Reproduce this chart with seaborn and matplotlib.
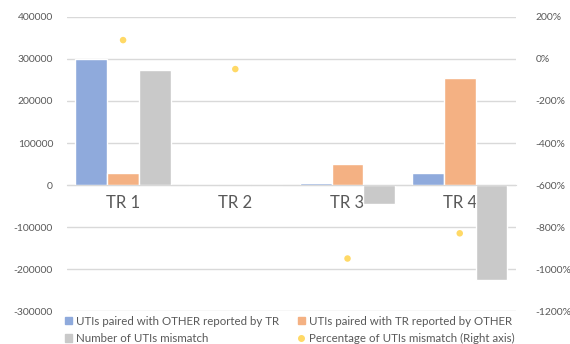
import pandas as pd
import numpy as np
import matplotlib
matplotlib.use('Agg')
import matplotlib.pyplot as plt
import seaborn as sns
from matplotlib.ticker import FuncFormatter
from matplotlib.patches import Patch
from matplotlib.lines import Line2D

# data
categories = ['TR 1', 'TR 2', 'TR 3', 'TR 4']
paired_other_by_tr = [300000, 0, 4000, 28000]
paired_tr_by_other = [28000, 0, 51000, 255000]
uti_mismatch = [274000, 0, -46000, -226000]
pct_mismatch = [0.90, -0.48, -9.50, -8.30]

series_names = ['UTIs paired with OTHER reported by TR',
                'UTIs paired with TR reported by OTHER',
                'Number of UTIs mismatch']
pct_name = 'Percentage of UTIs mismatch (Right axis)'
colors = ['#8FAADC', '#F4B183', '#C9C9C9']
dot_color = '#FFD966'

df = pd.DataFrame({
    'category': categories * 3,
    'series': [s for s in series_names for _ in categories],
    'value': paired_other_by_tr + paired_tr_by_other + uti_mismatch,
})
df_pct = pd.DataFrame({'category': categories, 'pct': pct_mismatch})

sns.set_style('white')
plt.rcParams['font.family'] = ['Lato', 'DejaVu Sans']
tick_col = '#595959'
grid_col = '#D9D9D9'

fig = plt.figure(figsize=(5.7, 3.44), dpi=100)
ax = fig.add_axes([0.1175, 0.0959, 0.7875, 0.8547])

sns.barplot(data=df, x='category', y='value', hue='series', palette=colors,
            width=0.85, saturation=1, ax=ax, legend=False, zorder=2)

ax.set_ylim(-300000, 400000)
ax.set_yticks(np.arange(-300000, 400001, 100000))
ax.yaxis.set_major_formatter(FuncFormatter(lambda v, p: f'{int(v)}'))
ax.grid(axis='y', color=grid_col, linewidth=1, zorder=0)
ax.set_axisbelow(True)
for s in ['top', 'right', 'left']:
    ax.spines[s].set_visible(False)
ax.spines['bottom'].set_position(('data', 0))
ax.spines['bottom'].set_color(grid_col)
ax.tick_params(axis='y', length=0, labelsize=7.5, labelcolor=tick_col, pad=10)
ax.tick_params(axis='x', length=0, labelsize=12, labelcolor=tick_col, pad=7)
ax.set_xlabel('')
ax.set_ylabel('')

ax2 = ax.twinx()
sns.scatterplot(data=df_pct, x='category', y='pct', color=dot_color, s=22,
                edgecolor='none', ax=ax2, zorder=3)
ax2.set_ylim(-12, 2)
ax2.set_yticks(np.arange(-12, 2.01, 2))
ax2.yaxis.set_major_formatter(FuncFormatter(lambda v, p: f'{int(round(v * 100))}%'))
ax2.tick_params(axis='y', length=0, labelsize=7.5, labelcolor=tick_col, pad=14)
for s in ax2.spines.values():
    s.set_visible(False)
ax2.set_ylabel('')
ax2.set_xlabel('')
ax.set_xlim(-0.5, 3.5)

handles = [Patch(color=colors[0], label=series_names[0]),
           Patch(color=colors[2], label=series_names[2]),
           Patch(color=colors[1], label=series_names[1]),
           Line2D([], [], marker='o', linestyle='none', color=dot_color,
                  markersize=4, label=pct_name)]
leg = fig.legend(handles=handles, ncol=2, loc='lower left',
                 bbox_to_anchor=(0.095, -0.03), frameon=False, fontsize=8.3,
                 handlelength=0.65, handleheight=0.65, handletextpad=0.35,
                 columnspacing=1.6, labelspacing=0.55)
for t in leg.get_texts():
    t.set_color(tick_col)

fig.savefig('out.png', dpi=100)
